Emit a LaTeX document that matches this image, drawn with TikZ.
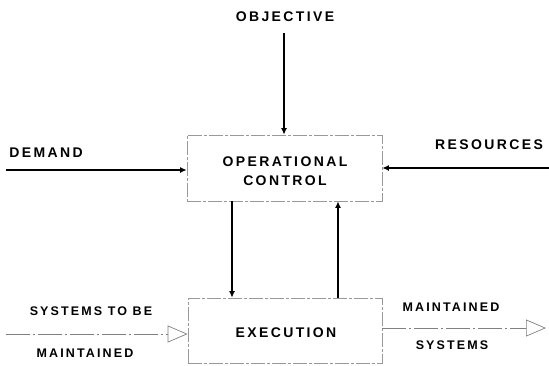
\documentclass[tikz,border=0pt]{standalone}
\usepackage{fontspec}
\setmainfont{Liberation Sans}[LetterSpace=17]
\usetikzlibrary{arrows.meta}
\tikzset{
  blk/.style={draw=black!40, line width=0.7pt, dash pattern=on 14pt off 2pt on 3pt off 2pt, minimum width=195pt, minimum height=66pt, inner sep=0pt},
  lbl/.style={font=\fontsize{14}{17}\selectfont\bfseries, inner sep=0pt, align=center},
  slbl/.style={font=\fontsize{12.5}{15}\selectfont\bfseries, inner sep=0pt},
  flow/.style={line width=2.4pt, -{Latex[length=6.5pt,width=6pt]}},
  mat/.style={draw=black!50, line width=0.9pt, dash pattern=on 24pt off 3pt on 2pt off 3pt, -{Triangle[open,length=20pt,width=17pt,line width=0.7pt]}}
}
\begin{document}
\begin{tikzpicture}[x=1pt,y=-1pt]
\useasboundingbox (0,0) rectangle (549,365);
% boxes
\node[blk] (opc) at (284.5,168) {};
\node[blk, minimum width=194pt, minimum height=65pt] (exe) at (285,330.5) {};
\node[lbl] (opct) at (285,171) {OPERATIONAL\\[2pt]CONTROL};
\node[lbl] (exet) at (286,333) {EXECUTION};
% labels
\node[lbl] (obj) at (285,17) {OBJECTIVE};
\node[lbl] (dem) at (46,153) {DEMAND};
\node[lbl] (res) at (489,145) {RESOURCES};
\node[slbl] (stb) at (91,311) {SYSTEMS TO BE};
\node[slbl] (mnL) at (85,353) {MAINTAINED};
\node[slbl] (mnR) at (451,307) {MAINTAINED};
\node[slbl] (sysR) at (452,345) {SYSTEMS};
% coordinates
\coordinate (objs) at (284,33);
\coordinate (dems) at (6,170);
\coordinate (ress) at (549,168);
\coordinate (dx) at (232,0);
\coordinate (ux) at (338,0);
\coordinate (inL) at (6,334);
\coordinate (outR) at (546,328);
% arrows
\draw[flow] (objs) -- (opc.north -| objs);
\draw[flow] (dems) -- (dems -| opc.west);
\draw[flow] (ress) -- (ress -| opc.east);
\draw[flow] (opc.south -| dx) -- (exe.north -| dx);
\draw[flow] (exe.north -| ux) -- (opc.south -| ux);
\draw[mat] (inL) -- (inL -| exe.west);
\draw[mat] (outR -| exe.east) -- (outR);
\end{tikzpicture}
\end{document}
